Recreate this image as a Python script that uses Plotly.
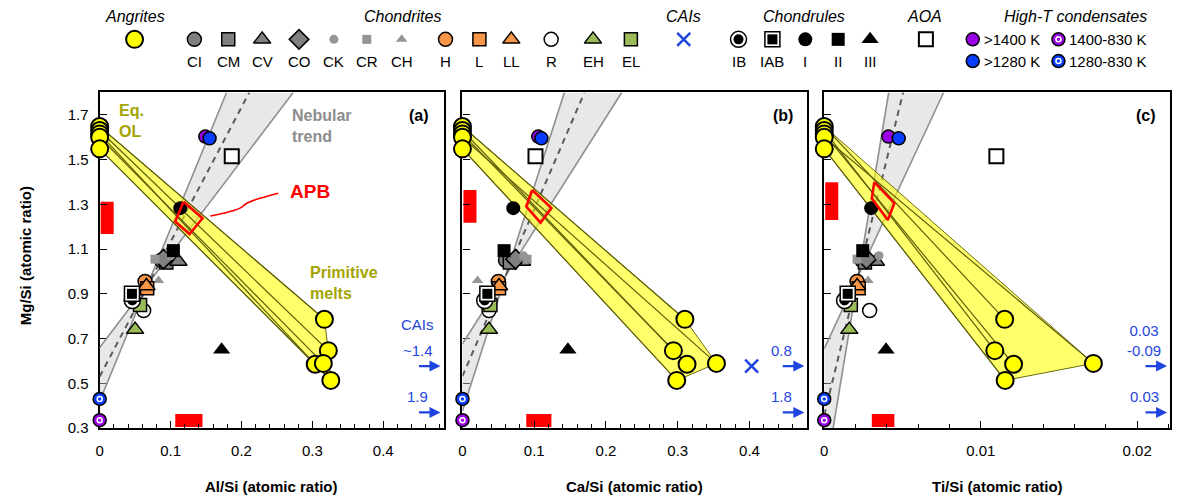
import plotly.graph_objects as go

FONT = "Liberation Sans, Arial, sans-serif"
OLIVE_TXT = "#a3a300"
CAI_BLUE = "#1f45e0"

# ---------------- data (Mg/Si is shared by the three panels) ----------------
# Angrites: equilibrium olivine and primitive melts (paired by index)
eqol_mg = [1.648, 1.630, 1.615, 1.600, 1.548]
eqol_al = [0.0, 0.0, 0.0, 0.0, 0.0]
eqol_ca = [0.0, 0.0, 0.0, 0.0, 0.0]
eqol_ti = [0.0, 0.0, 0.0, 0.0, 0.0]
melt_mg = [0.786, 0.646, 0.585, 0.589, 0.513]
melt_al = [0.317, 0.3225, 0.304, 0.3155, 0.326]
melt_ca = [0.310, 0.294, 0.313, 0.354, 0.2986]
melt_ti = [0.01153, 0.0109, 0.0121, 0.0172, 0.01156]

# Chondrites
chon_names = ["CI", "CM", "CV", "CO", "CK", "CR", "CH", "H", "L", "LL", "R", "EH", "EL"]
chon_mg = [1.05, 1.04, 1.045, 1.055, 1.07, 1.055, 0.96, 0.955, 0.925, 0.935, 0.825, 0.74, 0.85]
chon_al = [0.087, 0.094, 0.111, 0.090, 0.100, 0.078, 0.083, 0.064, 0.067, 0.066, 0.062, 0.050, 0.057]
chon_ca = [0.060, 0.066, 0.083, 0.074, 0.085, 0.090, 0.021, 0.050, 0.051, 0.051, 0.037, 0.037, 0.039]
chon_ti = [0.0024, 0.0026, 0.0033, 0.0027, 0.0035, 0.0021, 0.0028, 0.0021, 0.0022, 0.0021, 0.0029, 0.0016, 0.0017]

# Chondrules
chdl_names = ["IB", "IAB", "I", "II", "III"]
chdl_mg = [0.87, 0.90, 1.283, 1.093, 0.65]
chdl_al = [0.046, 0.0455, 0.1137, 0.104, 0.172]
chdl_ca = [0.031, 0.0347, 0.0708, 0.058, 0.147]
chdl_ti = [0.0013, 0.0015, 0.0030, 0.00246, 0.00395]

# Amoeboid olivine aggregates
aoa_mg = [1.515]
aoa_al = [0.1863]
aoa_ca = [0.1018]
aoa_ti = [0.0110]

# High-T condensates
hit_names = [">1400 K", ">1280 K", "1400-830 K", "1280-830 K"]
hit_mg = [1.603, 1.595, 0.335, 0.43]
hit_al = [0.149, 0.155, 0.0, 0.0]
hit_ca = [0.1056, 0.110, 0.0, 0.0]
hit_ti = [0.0041, 0.00476, 0.0, 0.0]

# CAIs (mostly beyond the x range: values given as labels)
cai_mg = [0.577, 0.37]
cai_ca_inrange = [0.403]
cai_al_text = ["~1.4", "1.9"]
cai_ca_text = ["0.8", "1.8"]
cai_ti_text = ["0.03<br>-0.09", "0.03"]

# Nebular trend: two bounding lines and the central (dashed) line, as endpoints
neb_a = {"lo": [(0, 0.42), (0.179, 1.8)], "hi": [(0, 0.66), (0.273, 1.8)], "mid": [(0, 0.53), (0.211, 1.8)]}
neb_b = {"lo": [(0, 0.376), (0.142, 1.8)], "hi": [(0, 0.677), (0.222, 1.8)], "mid": [(0, 0.532), (0.170, 1.8)]}
neb_c = {"lo": [(0, 0.06), (0.00412, 1.8)], "hi": [(0, 0.655), (0.00763, 1.8)], "mid": [(0, 0.358), (0.00504, 1.8)]}

# APB field (quadrilateral vertices: x, Mg/Si)
apb_a_x = [0.1183, 0.145, 0.1268, 0.1066]
apb_b_x = [0.0972, 0.124, 0.1088, 0.0889]
apb_c_x = [0.0032, 0.00448, 0.00406, 0.00304]
apb_a_y = [1.312, 1.238, 1.167, 1.223]
apb_b_y = [1.364, 1.283, 1.218, 1.290]
apb_c_y = [1.399, 1.305, 1.230, 1.327]

# leader line from the APB label
apb_lead_x = [0.156, 0.1746, 0.198, 0.2075, 0.226, 0.252]
apb_lead_y = [1.248, 1.260, 1.283, 1.305, 1.327, 1.350]

# ---------------- marker styles ----------------
GRAY = "#808080"
LGRAY = "#959595"
ORANGE = "#f79646"
GREEN = "#9bbb59"
BLK = dict(color="black", width=1.5)


def m(symbol, size, color, line=None):
    d = dict(symbol=symbol, size=size, color=color)
    d["line"] = line if line else dict(width=0)
    return d


STYLES = {
    "Angrites": [m("circle", 17, "#ffff00", dict(color="black", width=2))],
    "CI": [m("circle", 14, GRAY, BLK)],
    "CM": [m("square", 13, GRAY, BLK)],
    "CV": [m("triangle-up", 15, GRAY, BLK)],
    "CO": [m("diamond", 15, GRAY, BLK)],
    "CK": [m("circle", 9, LGRAY)],
    "CR": [m("square", 9, LGRAY)],
    "CH": [m("triangle-up", 10, LGRAY)],
    "H": [m("circle", 14, ORANGE, BLK)],
    "L": [m("square", 13, ORANGE, BLK)],
    "LL": [m("triangle-up", 15, ORANGE, BLK)],
    "R": [m("circle", 14, "white", BLK)],
    "EH": [m("triangle-up", 15, GREEN, BLK)],
    "EL": [m("square", 13, GREEN, BLK)],
    "CAIs": [m("x-thin", 13, CAI_BLUE, dict(color=CAI_BLUE, width=2.5))],
    "IB": [m("circle", 16, "white", BLK), m("circle", 10, "black")],
    "IAB": [m("square", 15, "white", BLK), m("square", 10, "black")],
    "I": [m("circle", 14, "black")],
    "II": [m("square", 13, "black")],
    "III": [m("triangle-up", 15, "black")],
    "AOA": [m("square", 14, "white", dict(color="black", width=2))],
    ">1400 K": [m("circle", 13, "#9900e6", BLK)],
    ">1280 K": [m("circle", 13, "#0a3cff", BLK)],
    "1400-830 K": [m("circle", 13, "#9900e6", BLK), m("circle-open", 5, "white", dict(color="white", width=1.5))],
    "1280-830 K": [m("circle", 13, "#0a3cff", BLK), m("circle-open", 5, "white", dict(color="white", width=1.5))],
}

fig = go.Figure()


def add_points(xs, ys, key, xa, ya):
    for layer in STYLES[key]:
        fig.add_trace(go.Scatter(x=xs, y=ys, mode="markers", marker=layer, xaxis=xa, yaxis=ya,
                                 cliponaxis=False, hoverinfo="skip", showlegend=False))


def intersect(l1, l2):
    (x1, y1), (x2, y2) = l1
    (x3, y3), (x4, y4) = l2
    d = (x1 - x2) * (y3 - y4) - (y1 - y2) * (x3 - x4)
    t = ((x1 - x3) * (y3 - y4) - (y1 - y3) * (x3 - x4)) / d
    return (x1 + t * (x2 - x1), y1 + t * (y2 - y1))


def hull(pts):
    pts = sorted(set(pts))

    def cross(o, a, b):
        return (a[0] - o[0]) * (b[1] - o[1]) - (a[1] - o[1]) * (b[0] - o[0])

    lower, upper = [], []
    for p in pts:
        while len(lower) >= 2 and cross(lower[-2], lower[-1], p) <= 0:
            lower.pop()
        lower.append(p)
    for p in reversed(pts):
        while len(upper) >= 2 and cross(upper[-2], upper[-1], p) <= 0:
            upper.pop()
        upper.append(p)
    return lower[:-1] + upper[:-1]


def draw_panel(xa, ya, neb, ol_x, mx, chx, cdx, aox, hix, apx, apy):
    # nebular trend wedge (bow-tie between the two bounding lines)
    piv = intersect(neb["lo"], neb["hi"])
    for tri in ([neb["lo"][0], neb["hi"][0], piv], [piv, neb["lo"][1], neb["hi"][1]]):
        fig.add_trace(go.Scatter(x=[p[0] for p in tri] + [tri[0][0]], y=[p[1] for p in tri] + [tri[0][1]],
                                 mode="lines", fill="toself", fillcolor="rgba(205,205,205,0.45)",
                                 line=dict(width=0), xaxis=xa, yaxis=ya, hoverinfo="skip", showlegend=False))
    for k in ("lo", "hi"):
        fig.add_trace(go.Scatter(x=[p[0] for p in neb[k]], y=[p[1] for p in neb[k]], mode="lines",
                                 line=dict(color="#8f8f8f", width=1.6), xaxis=xa, yaxis=ya,
                                 hoverinfo="skip", showlegend=False))
    fig.add_trace(go.Scatter(x=[p[0] for p in neb["mid"]], y=[p[1] for p in neb["mid"]], mode="lines",
                             line=dict(color="#5a5a5a", width=2, dash="6px,5px"), xaxis=xa, yaxis=ya,
                             hoverinfo="skip", showlegend=False))

    # olivine -> primitive melt band
    pts = list(zip(ol_x, eqol_mg)) + list(zip(mx, melt_mg))
    h = hull(pts)
    fig.add_trace(go.Scatter(x=[p[0] for p in h] + [h[0][0]], y=[p[1] for p in h] + [h[0][1]],
                             mode="lines", fill="toself", fillcolor="rgba(255,255,0,0.58)",
                             line=dict(color="#6b6b10", width=1), xaxis=xa, yaxis=ya,
                             hoverinfo="skip", showlegend=False))
    for i in range(len(melt_mg)):
        fig.add_trace(go.Scatter(x=[ol_x[i], mx[i]], y=[eqol_mg[i], melt_mg[i]], mode="lines",
                                 line=dict(color="#5e5e0a", width=1.2), xaxis=xa, yaxis=ya,
                                 hoverinfo="skip", showlegend=False))

    # chondrites, chondrules, AOA, condensates
    for i, n in enumerate(chon_names):
        add_points([chx[i]], [chon_mg[i]], n, xa, ya)
    for i, n in enumerate(chdl_names):
        add_points([cdx[i]], [chdl_mg[i]], n, xa, ya)
    add_points(aox, aoa_mg, "AOA", xa, ya)
    for i, n in enumerate(hit_names):
        add_points([hix[i]], [hit_mg[i]], n, xa, ya)

    # APB field
    fig.add_trace(go.Scatter(x=apx + [apx[0]], y=apy + [apy[0]], mode="lines",
                             line=dict(color="#ff0000", width=2.6), xaxis=xa, yaxis=ya,
                             hoverinfo="skip", showlegend=False))
    fig.add_shape(type="rect", xref=xa, yref=ya, xsizemode="pixel", xanchor=0, x0=1, x1=14,
                  y0=min(apy), y1=max(apy), fillcolor="#ff0000", line=dict(width=0), layer="below")
    fig.add_shape(type="rect", xref=xa, yref=ya, ysizemode="pixel", yanchor=0.3, y0=1, y1=14,
                  x0=min(apx), x1=max(apx), fillcolor="#ff0000", line=dict(width=0), layer="below")

    # angrites on top
    add_points(mx, melt_mg, "Angrites", xa, ya)
    add_points(ol_x, eqol_mg, "Angrites", xa, ya)


draw_panel("x", "y", neb_a, eqol_al, melt_al, chon_al, chdl_al, aoa_al, hit_al, apb_a_x, apb_a_y)
draw_panel("x2", "y2", neb_b, eqol_ca, melt_ca, chon_ca, chdl_ca, aoa_ca, hit_ca, apb_b_x, apb_b_y)
draw_panel("x3", "y3", neb_c, eqol_ti, melt_ti, chon_ti, chdl_ti, aoa_ti, hit_ti, apb_c_x, apb_c_y)

# CAI within the Ca/Si range
add_points(cai_ca_inrange, cai_mg[:1], "CAIs", "x2", "y2")

# APB leader line
fig.add_trace(go.Scatter(x=apb_lead_x, y=apb_lead_y, mode="lines", line=dict(color="#ff0000", width=1.6, shape="spline"),
                         xaxis="x", yaxis="y", hoverinfo="skip", showlegend=False))

ann = []


def text(x, y, s, xref, yref, size=15, color="black", bold=False, italic=False, xanchor="center",
         yanchor="middle", angle=0, xshift=0, yshift=0, align="center"):
    if bold:
        s = "<b>" + s.replace("<br>", "</b><br><b>") + "</b>"
    if italic:
        s = "<i>" + s + "</i>"
    ann.append(dict(x=x, y=y, xref=xref, yref=yref, text=s, showarrow=False, xanchor=xanchor, yanchor=yanchor,
                    textangle=angle, xshift=xshift, yshift=yshift, align=align,
                    font=dict(family=FONT, size=size, color=color)))


# CAI arrows at the right edge of each panel
for xd, yd, labels in (("x domain", "y", cai_al_text), ("x2 domain", "y2", cai_ca_text), ("x3 domain", "y3", cai_ti_text)):
    for j, yv in enumerate(cai_mg):
        ann.append(dict(x=1, y=yv, xref=xd, yref=yd, ax=-26, ay=0, axref="pixel", ayref="pixel", text="",
                        showarrow=True, arrowhead=2, arrowsize=1, arrowwidth=2.2, arrowcolor=CAI_BLUE,
                        standoff=3))
        text(1, yv, labels[j], xd, yd, size=15, color=CAI_BLUE, xanchor="center", yanchor="bottom",
             xshift=-26, yshift=5, align="center")
text(1, cai_mg[0], "CAIs", "x domain", "y", size=15, color=CAI_BLUE, yanchor="bottom", xshift=-26, yshift=31)

# panel text
text(0.93, 0.93, "(a)", "x domain", "y domain", size=16, bold=True)
text(0.93, 0.93, "(b)", "x2 domain", "y2 domain", size=16, bold=True)
text(0.93, 0.93, "(c)", "x3 domain", "y3 domain", size=16, bold=True)
text(0.024, 1.672, "Eq.<br>OL", "x", "y", size=16, color=OLIVE_TXT, bold=True, xanchor="left", align="left")
text(0.294, 0.95, "Primitive<br>melts", "x", "y", size=16, color=OLIVE_TXT, bold=True, xanchor="left", align="left")
text(0.268, 1.652, "Nebular<br>trend", "x", "y", size=16, color="#8c8c8c", bold=True, xanchor="left", align="left")
text(0.296, 1.357, "APB", "x", "y", size=19, color="#ff0000", bold=True)

# axis titles
text(0.018, 0.48, "Mg/Si (atomic ratio)", "paper", "paper", size=15, bold=True, angle=-90)
text(0.2255, 0.011, "Al/Si (atomic ratio)", "paper", "paper", size=15, bold=True)
text(0.5315, 0.011, "Ca/Si (atomic ratio)", "paper", "paper", size=15, bold=True)
text(0.8367, 0.011, "Ti/Si (atomic ratio)", "paper", "paper", size=15, bold=True)

# ---------------- legend strip ----------------
LEG_TITLE_Y, LEG_MARK_Y, LEG_LAB_Y = 17, 40, 62
legend_titles = [("Angrites", 131), ("Chondrites", 400), ("CAIs", 682), ("Chondrules", 803), ("AOA", 924),
                 ("High-T condensates", 1075)]
legend_cols = [("Angrites", "", 131), ("CI", "CI", 191), ("CM", "CM", 225), ("CV", "CV", 259), ("CO", "CO", 296),
               ("CK", "CK", 331), ("CR", "CR", 364), ("CH", "CH", 399), ("H", "H", 443), ("L", "L", 477),
               ("LL", "LL", 509), ("R", "R", 549), ("EH", "EH", 591), ("EL", "EL", 629), ("CAIs", "", 682),
               ("IB", "IB", 737), ("IAB", "IAB", 771), ("I", "I", 804), ("II", "II", 837), ("III", "III", 869),
               ("AOA", "", 925)]
legend_side = [(">1400 K", 972, LEG_MARK_Y), ("1400-830 K", 1058, LEG_MARK_Y),
               (">1280 K", 972, LEG_LAB_Y), ("1280-830 K", 1058, LEG_LAB_Y)]

for t, xp in legend_titles:
    text(xp, LEG_TITLE_Y, t, "x4", "y4", size=16, italic=True)
for key, lab, xp in legend_cols:
    add_points([xp], [LEG_MARK_Y], key, "x4", "y4")
    if lab:
        text(xp, LEG_LAB_Y, lab, "x4", "y4", size=15)
for key, xp, yp in legend_side:
    add_points([xp], [yp], key, "x4", "y4")
    text(xp + 9, yp, key, "x4", "y4", size=15, xanchor="left")

# ---------------- axes ----------------
YDOM = [0.13, 0.812]
tickfont = dict(family=FONT, size=15, color="black")


def xcfg(domain, rng, dtick, minor, anchor):
    return dict(domain=domain, range=rng, anchor=anchor, showline=True, linecolor="black", linewidth=2.2,
                mirror=True, ticks="inside", ticklen=7, tickwidth=1.4, tickcolor="black", tick0=0, dtick=dtick,
                minor=dict(dtick=minor, ticks="inside", ticklen=4, tickwidth=1.2, tickcolor="black"),
                showgrid=False, zeroline=False, tickfont=tickfont, ticklabelstandoff=8,
                layer="below traces", fixedrange=True)


def ycfg(anchor, labels):
    return dict(domain=YDOM, range=[0.3, 1.8], anchor=anchor, showline=True, linecolor="black", linewidth=2.2,
                mirror=True, ticks="inside", ticklen=7, tickwidth=1.4, tickcolor="black", tick0=0.3, dtick=0.2,
                tickformat=".1f", showticklabels=labels, showgrid=False, zeroline=False, tickfont=tickfont,
                ticklabelstandoff=6, layer="below traces", fixedrange=True)


fig.update_layout(
    width=1191, height=500, margin=dict(l=0, r=0, t=0, b=0),
    paper_bgcolor="white", plot_bgcolor="white", showlegend=False,
    xaxis=xcfg([96 / 1191, 441 / 1191], [0, 0.485], 0.1, 0.02, "y"),
    xaxis2=xcfg([460 / 1191, 806 / 1191], [0, 0.4806], 0.1, 0.02, "y2"),
    xaxis3=xcfg([823 / 1191, 1170 / 1191], [0, 0.0221], 0.01, 0.002, "y3"),
    yaxis=ycfg("x", True), yaxis2=ycfg("x2", False), yaxis3=ycfg("x3", False),
    xaxis4=dict(domain=[0, 1], range=[0, 1191], visible=False, fixedrange=True, anchor="y4"),
    yaxis4=dict(domain=[0.816, 1], range=[92, 0], visible=False, fixedrange=True, anchor="x4"),
    annotations=ann,
)

fig.write_html("out.html")
